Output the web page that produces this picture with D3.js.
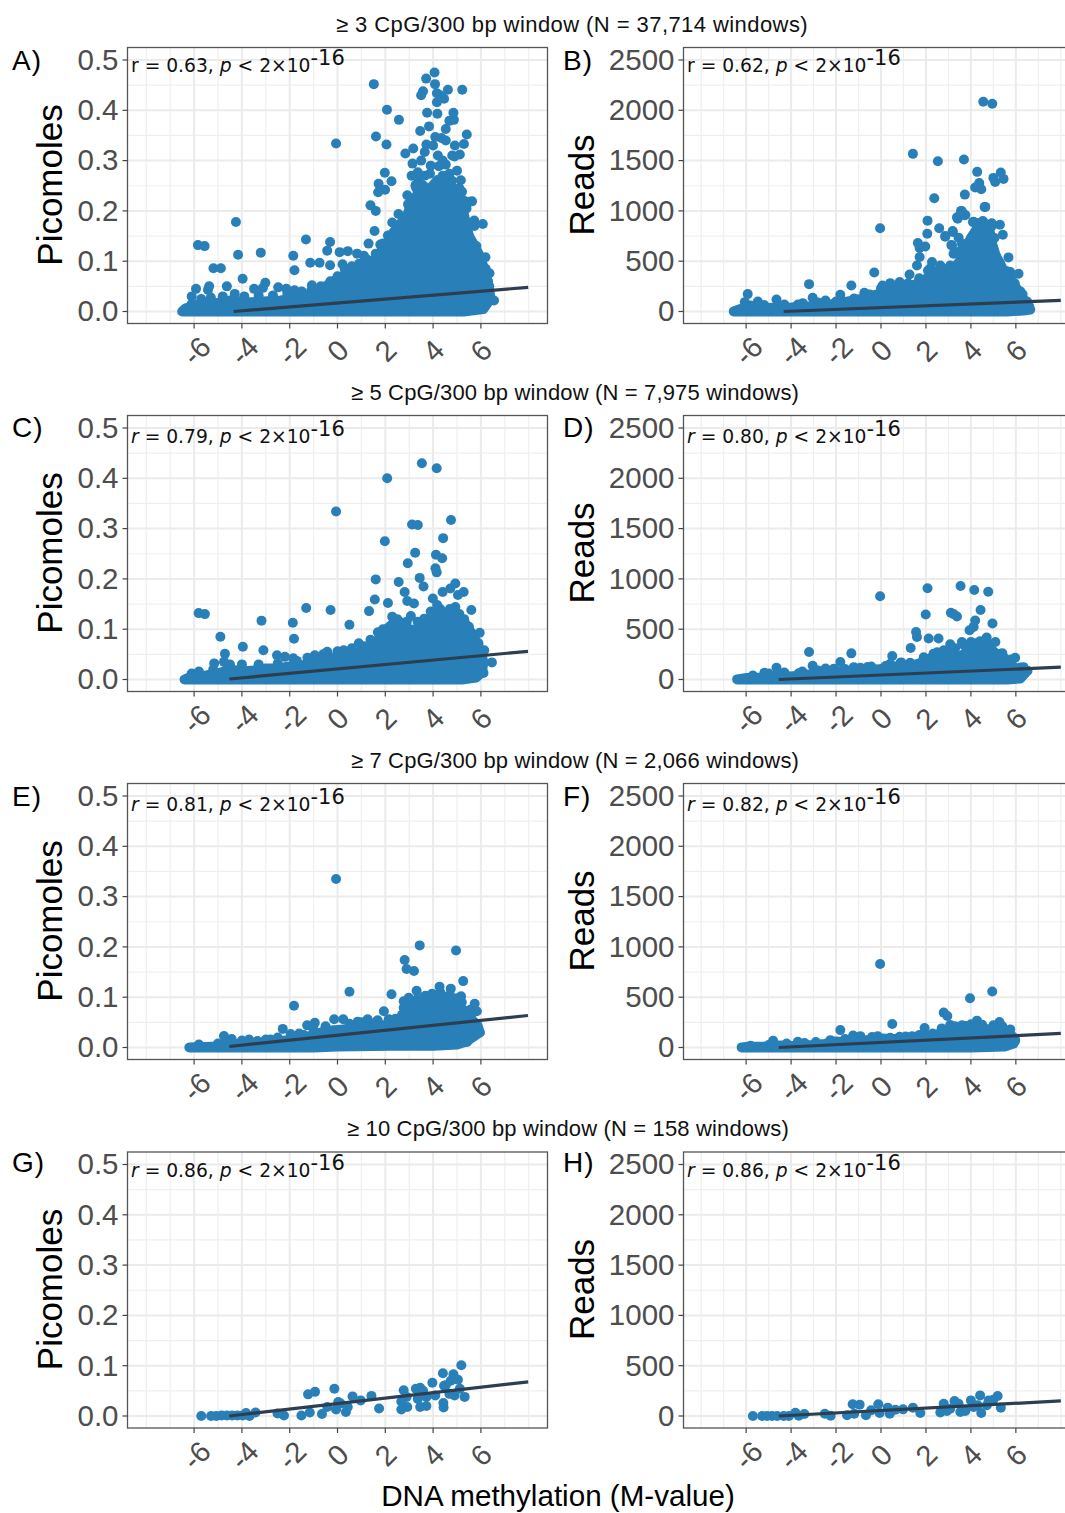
<html>
<head>
<meta charset="utf-8">
<script src="https://cdn.jsdelivr.net/npm/d3@7"></script>
<style>
  body, html { margin:0; padding:0; background:#fff; overflow:hidden; }
  text { font-family:"Liberation Sans", Arial, sans-serif; }
  .note { font-family:"DejaVu Sans"; }
</style>
</head>
<body>
<svg id="chart" width="1065" height="1513"></svg>
<script>
var xTicks = [-6,-4,-2,0,2,4,6];
var xMinor = [-8,-7,-5,-3,-1,1,3,5,7,8];
var picoTicks = [0,0.1,0.2,0.3,0.4,0.5];
var picoMinor = [0.05,0.15,0.25,0.35,0.45];
var readTicks = [0,500,1000,1500,2000,2500];
var readMinor = [250,750,1250,1750,2250];

var rowTitles = [
  "≥ 3 CpG/300 bp window (N = 37,714 windows)",
  "≥ 5 CpG/300 bp window (N = 7,975 windows)",
  "≥ 7 CpG/300 bp window (N = 2,066 windows)",
  "≥ 10 CpG/300 bp window (N = 158 windows)"
];
var panelNames = ["A)","B)","C)","D)","E)","F)","G)","H)"];
var rValues = ["0.63","0.62","0.79","0.80","0.81","0.82","0.86","0.86"];

// windows: [M-value, picomoles or reads]
var pointsA = [[4.06,.475],[3.71,.463],[4.08,.452],[1.52,.452],[5.22,.441],[4.62,.441],[3.58,.438],[3.5,.43],[4.16,.434],[4.46,.423],[4.3,.43],[4.16,.416],[2.07,.401],[4.85,.395],[3.75,.395],[4.18,.393],[2.57,.381],[4.87,.381],[4.68,.379],[3.83,.368],[4.53,.363],[3.46,.359],[1.61,.348],[5.41,.352],[4.09,.347],[5.29,.333],[4.53,.34],[-.06,.334],[2.05,.332],[3.72,.332],[3.17,.324],[2.84,.314],[4.91,.33],[3.65,.317],[5.12,.312],[4.9,.308],[3.14,.294],[4.24,.289],[4.53,.292],[1.98,.276],[3.36,.277],[3.87,.274],[4.68,.274],[4.72,.262],[2.26,.259],[5.16,.261],[1.72,.254],[3.28,.252],[1.99,.242],[1.7,.237],[5.21,.238],[2.92,.231],[5.63,.219],[5.5,.218],[1.38,.211],[2.95,.213],[1.6,.2],[2.55,.194],[2.29,.177],[5.72,.181],[6.08,.174],[5.73,.17],[-4.25,.178],[1.55,.16],[2.11,.151],[2.48,.154],[-1.32,.143],[-.31,.138],[1.3,.135],[1.79,.133],[-5.84,.132],[-5.56,.13],[-.43,.121],[.09,.118],[.43,.12],[.82,.115],[-3.21,.117],[-4.16,.113],[-1.85,.111],[5.56,.135],[5.81,.13],[6.19,.108],[-1.14,.097],[-.75,.097],[-.31,.092],[.21,.094],[-5.19,.086],[-4.88,.086],[-1.8,.082],[-3.97,.065],[-3.02,.057],[-3.49,.045],[-3.12,.047],[-5.92,.045],[-5.37,.05],[-4.63,.05],[-6.1,.03],[6.36,.076],[6.55,.022],[-2.48,.048],[-2.14,.045],[-1.8,.042],[-1.07,.052],[-5.42,.043],[1.1,.111],[3.33,.232],[3.26,.25],[3.65,.27],[4.1,.254],[4.79,.26],[5.6,.14],[3.05,.19],[3.5,.205],[2.7,.17],[2.3,.14],[3.2,.18],[5.3,.19],[5.15,.2],[4.95,.225],[5.5,.15],[6.0,.1],[6.3,.06],
  [3,.2],[3.3,.245],[3.6,.25],[3.9,.245],[4.4,.27],[4.7,.255],[5.1,.245],[5.3,.22],[5.4,.205],[2.75,.18],[2.45,.165],[2.2,.15],[1.9,.135],[1.6,.115],[1.2,.105],[.9,.095],[.6,.09],[.3,.085],[0,.07],[-.3,.06],[-.7,.05],[-1.1,.042],[-1.5,.04],[-2.1,.035],[-2.7,.032],[-3.3,.032],[-3.9,.03],[-4.3,.035],[-4.8,.03],[-5.3,.028],[-5.7,.025],[-6.1,.015],[5.9,.115],[6.2,.085],[6.35,.05],[5,.28],[4.4,.3],[4.8,.31],[3.4,.26],[3.9,.29],[3.1,.27],[3.5,.3],[4.2,.31],[4,.33],[4.35,.345]];
var coreAx = [-6.5,-6.36,-5.87,-5.03,-4.47,-3.78,-2.38,-1.69,-1.13,-.43,.26,.82,1.38,1.94,2.3,2.9,3.2,3.7,4.2,4.6,5,5.3,5.5,5.8,6.1,6.33,6.4,6.1,5.28];
var coreAy = [0,.006,.014,.017,.022,.018,.022,.027,.033,.052,.072,.08,.095,.125,.155,.19,.225,.235,.262,.262,.235,.19,.15,.125,.09,.05,.025,.005,0];
var trendA = [[-4.35,0],[7.98,.048]];

var pointsB = [[4.55,2085],[4.95,2065],[1.42,1567],[2.53,1494],[3.69,1511],[4.28,1388],[5.33,1381],[5,1328],[5.45,1318],[5.08,1288],[4.37,1278],[4.19,1232],[4.46,1215],[3.73,1162],[2.37,1125],[4.61,1039],[3.6,996],[3.41,923],[3.72,956],[2.07,903],[4.09,890],[4.53,900],[5.29,863],[-.04,827],[2.59,827],[2.06,773],[3.19,790],[5.42,763],[2.86,744],[4.86,773],[1.64,681],[1.97,647],[1.72,631],[3.16,657],[3.82,674],[3.45,734],[4.27,707],[3.23,574],[1.72,541],[2.27,491],[1.6,458],[5.67,538],[2.64,458],[3.08,458],[-.3,388],[2.09,408],[1.27,368],[6.12,375],[5.75,392],[-3.2,272],[-1.32,259],[-5.93,173],[-6.06,93],[-5.48,100],[-4.65,120],[-3.04,136],[-1.81,166],[-2.47,110],[-.74,186],[.07,259],[.41,282],[.83,292],[6.59,53],[-3.48,83],[3.56,1000],[3.38,937],[3.75,960],[4.12,893],[4.93,877],[4.64,1040],[2.86,750],[3.19,800],[3.13,660],[3.6,677],[3.97,710],[4.4,850],[4.7,820],[4.25,800],[4,640],[4.8,680],[5,560],[5.3,480],[5.5,370],[5.9,280],[6.2,200],
  [2.2,430],[2.6,410],[3,430],[0,230],[.6,255],[1.2,280],[1.7,330],[-.5,170],[-1.2,130],[-2,100],[-2.8,90],[-3.7,70],[-4.3,70],[-5.2,65],[-5.8,60],[5.6,400],[5.95,280],[6.3,170],[6.5,100],[3.5,600],[3.9,620],[4.3,880],[4.6,880],[4.9,840],[5.05,730]];
var coreBx = [-6.55,-6.25,-5.5,-4,-2.55,-1.8,-.77,.12,1.16,1.9,2.34,2.93,3.3,3.7,4,4.3,4.7,4.93,5.1,5.4,5.75,6.2,6.49,6.64,6.34,5.6];
var coreBy = [0,25,35,40,60,85,130,190,240,300,400,380,440,560,730,830,830,680,560,430,330,167,70,20,10,0];
var trendB = [[-4.33,0],[8,110]];

var pointsC = [[3.53,.43],[4.15,.42],[2.08,.4],[-.06,.334],[4.75,.317],[3.12,.308],[3.36,.307],[4.42,.281],[1.98,.275],[3.25,.252],[4.12,.248],[4.38,.241],[2.94,.231],[4.1,.221],[4.15,.213],[3.44,.202],[1.6,.199],[2.56,.194],[3.6,.185],[4.93,.191],[4.72,.181],[4.4,.174],[5.28,.174],[5.04,.168],[2.81,.174],[3.99,.161],[1.56,.159],[2.92,.156],[3.2,.151],[2.11,.152],[4.17,.148],[4.93,.144],[1.32,.136],[5.6,.138],[-5.81,.132],[-5.55,.13],[-1.31,.142],[-.29,.138],[-3.18,.117],[-1.87,.113],[.5,.109],[2.29,.125],[3.07,.126],[3.63,.121],[3.35,.115],[1.69,.094],[5.95,.093],[-1.82,.081],[-4.9,.085],[1.38,.079],[.89,.072],[-3.96,.065],[-4.71,.051],[-3.1,.058],[-2.53,.048],[-2.2,.045],[-1.85,.042],[-5.16,.032],[-4.75,.035],[-1.26,.043],[-.95,.048],[-.43,.055],[.26,.058],[6.46,.034],[6.11,.013],[6.14,.058],[5.9,.072],[2.6,.115],[4.5,.13],[5.3,.12],[5.65,.09],
  [2.5,.12],[2.9,.115],[3.9,.135],[4.3,.14],[4.7,.14],[5.1,.13],[5.5,.105],[1.9,.1],[1.7,.075],[1.1,.066],[.6,.062],[0,.056],[-.6,.05],[-1.1,.04],[-1.7,.037],[-2.5,.032],[-3.3,.03],[-4,.03],[-4.5,.03],[-5.2,.02],[-5.8,.016],[-6.1,.012]];
var coreCx = [-6.4,-6.1,-5.5,-5,-4.5,-4,-3.5,-3,-2.5,-2,-1.5,-1,-.5,0,.5,1,1.5,2,2.3,2.7,3,3.4,3.7,4.1,4.6,5,5.3,5.7,6,6.1,6.05,5.8,5.2];
var coreCy = [0,.006,.008,.012,.02,.016,.018,.022,.022,.026,.028,.032,.042,.045,.05,.055,.066,.098,.11,.11,.1,.097,.11,.13,.13,.125,.115,.085,.055,.035,.015,.004,0];
var trendC = [[-4.53,.001],[7.97,.056]];

var pointsD = [[3.54,930],[2.07,907],[4.15,890],[4.77,873],[-.04,827],[4.43,690],[1.99,647],[3.11,663],[3.23,650],[3.38,627],[4.19,587],[4.96,557],[4.12,523],[3.94,490],[1.56,473],[1.6,423],[2.12,407],[2.56,407],[4.7,417],[5.09,373],[3.6,373],[4,373],[3.08,350],[1.32,313],[-3.2,273],[-1.32,260],[.5,233],[5.97,217],[-1.81,173],[-3.04,137],[-4.65,117],[-5.19,67],[-2.47,110],[-2.1,107],[-1.21,123],[-.92,117],[-.43,130],[.41,157],[.86,163],[1.3,167],[6.52,87],[6.13,30],[6.34,123],[-3.66,63],[2.34,257],[2.79,290],[5.3,257],[5.53,207],[4.4,380],[4.85,350],
  [3.3,310],[3.7,340],[4.2,360],[4.5,350],[2.5,270],[1.9,220],[.9,170],[.2,135],[-.6,125],[-1.6,105],[-2.8,90],[-3.5,80],[-4.3,70],[-5,60],[-5.7,40],[5.4,260],[5.8,200],[6.2,120]];
var coreDx = [-6.4,-5.96,-5.3,-4.6,-4,-3,-2,-1,0,.5,1,1.5,2,2.4,3,3.5,4,4.5,5,5.5,6,6.4,6.2,5.6];
var coreDy = [0,15,20,40,30,55,75,80,105,125,135,145,185,240,260,225,300,330,280,190,110,60,10,0];
var trendD = [[-4.55,0],[8,123]];

var pointsE = [[-.06,.335],[3.44,.203],[4.96,.193],[2.81,.174],[2.89,.156],[3.2,.152],[5.26,.132],[.5,.111],[2.26,.106],[3.31,.113],[4.27,.121],[4.74,.117],[3.96,.107],[3.68,.103],[5.17,.102],[2.98,.099],[2.77,.092],[5.74,.087],[-1.82,.083],[2.77,.079],[5.83,.072],[1.94,.072],[5.55,.075],[-.14,.056],[.24,.056],[-.95,.049],[-1.27,.044],[.84,.051],[1.26,.056],[1.68,.054],[2.42,.057],[2.14,.056],[-2.29,.037],[5.95,.03],[5.42,.011],[-4.75,.023],[-4.43,.017],[-3.7,.016],[-3.35,.013],[-2.8,.016],[-1.96,.027],[-1.41,.025],[3.3,.095],[4.5,.1],[5,.098],
  [3.6,.1],[4,.105],[4.3,.11],[4.7,.105],[5.2,.09],[5.6,.065],[3,.085],[2.7,.065],[2.2,.055],[1.6,.05],[1,.05],[.5,.047],[-.5,.042],[-1,.035],[-1.6,.028],[-2.5,.02],[-3,.016],[-4,.014],[-5,.008],[-5.8,.006]];
var coreEx = [-6.2,-5,-4.6,-4,-3,-2.5,-2,-1.5,-1,-.5,0,.5,1,1.5,2,2.6,3,3.5,4,4.5,5,5.5,5.85,5.95,5.4,5,4,3,0,-1];
var coreEy = [0,.002,.008,.006,.008,.012,.015,.018,.025,.033,.035,.037,.04,.042,.045,.05,.075,.085,.09,.095,.09,.06,.045,.03,.012,.006,.0035,.004,.002,0];
var trendE = [[-4.53,.002],[7.97,.0636]];

var pointsF = [[-.04,830],[4.95,557],[3.96,490],[2.79,347],[2.95,313],[.5,233],[-1.81,173],[1.94,193],[5.27,253],[4.27,267],[3.75,213],[3.08,223],[-4.8,67],[-3.7,57],[-1.24,120],[-.92,113],[-.15,113],[.41,97],[.83,107],[1.38,113],[5.75,180],[5.97,67],[5.45,30],[-2.25,73],
  [2.3,140],[2.7,190],[3.3,210],[3.6,220],[4,230],[4.5,225],[5,220],[5.4,210],[1.7,125],[1.1,110],[-.4,105],[-1.6,85],[-2.9,55],[-3.4,45],[-4.2,40],[-5,25],[-5.8,18]];
var coreFx = [-6.2,-5.9,-5,-4.5,-4,-3,-2.5,-2,-1.5,-1,-.5,0,.5,1,1.5,2,2.5,3,3.5,4,4.5,5,5.6,5.95,5.9,5.5,4];
var coreFy = [0,8,8,20,15,25,35,60,50,70,75,90,85,85,90,110,130,170,170,190,185,180,160,90,40,10,0];
var trendF = [[-4.55,0],[8,140]];

var pointsG = [[-5.7,0],[-5.29,0],[-5.07,0],[-4.85,.001],[-4.63,.001],[-4.41,.001],[-4.19,.001],[-3.97,.001],[-3.83,.006],[-3.68,0],[-3.43,.007],[-2.51,.005],[-2.24,.001],[-1.51,.001],[-1.23,.043],[-.94,.048],[-1.16,.007],[-.65,.004],[-.43,.018],[-.13,.054],[-.06,.013],[.03,.028],[.35,.008],[.43,.018],[.13,.025],[.63,.039],[.97,.031],[1.42,.04],[1.74,.015],[2.67,.013],[2.77,.051],[2.67,.029],[2.92,.018],[2.89,.038],[3.28,.054],[3.46,.056],[3.58,.05],[3.46,.018],[3.72,.02],[3.36,.034],[3.97,.066],[4.09,.041],[3.72,.038],[4.41,.085],[4.46,.06],[4.43,.026],[4.44,.017],[4.85,.083],[5.04,.072],[4.74,.07],[4.53,.061],[5.18,.101],[5.32,.038],[4.9,.041],[5.12,.054],[4.68,.044]];
var trendG = [[-4.53,0],[7.98,.068]];

var pointsH = [[-5.7,0],[-5.29,0],[-5.07,0],[-4.85,0],[-4.62,0],[-4.33,0],[-4.1,0],[-3.81,33],[-3.66,3],[-3.41,20],[-2.5,23],[-2.24,3],[-1.51,7],[-1.26,116],[-.95,113],[-1.19,23],[-.67,7],[-.44,56],[-.12,116],[-.06,30],[.3,83],[.39,23],[.64,63],[.98,66],[1.42,83],[1.75,30],[2.64,36],[2.79,122],[2.93,50],[3.27,149],[3.45,122],[3.53,40],[3.08,73],[3.75,50],[4,155],[4.41,205],[4.46,30],[4.12,89],[4.79,155],[5.19,199],[5,162],[5.33,83],[4.71,106],[4.3,106]];
var trendH = [[-4.55,0],[8,150]];

var pointSets = [pointsA,pointsB,pointsC,pointsD,pointsE,pointsF,pointsG,pointsH];
var coreXs = [coreAx,coreBx,coreCx,coreDx,coreEx,coreFx,null,null];
var coreYs = [coreAy,coreBy,coreCy,coreDy,coreEy,coreFy,null,null];
var trends = [trendA,trendB,trendC,trendD,trendE,trendF,trendG,trendH];

var blue = "#2980b9", dark = "#2c3e50";
var rowTops = [47.5,415.5,783.5,1152];
var titleCenters = [572,575,575,568];
var titleSpacing = [0.43,0.15,0.15,0.15];
var letterBase = [70,437,806,1172];
var noteBase = [72,442.5,810.5,1176.5];
var svg = d3.select("#chart");

rowTitles.forEach(function(t,i){
  svg.append("text").attr("x",titleCenters[i]).attr("y",rowTops[i]-16)
     .attr("text-anchor","middle").attr("font-size",22).attr("letter-spacing",titleSpacing[i]).attr("fill","#111").text(t);
});

panelNames.forEach(function(name,i){
  var col = i%2, row = Math.floor(i/2), top = rowTops[row];
  var left = col ? 683.5 : 127.5, width = col ? 395 : 420;
  var x = d3.scaleLinear().domain([-8.787,8.787]).range([left,left+width]);
  var y = d3.scaleLinear().domain(col ? [0,2500] : [0,0.5]).range([top+264,top+12.5]);
  var yTicks = col ? readTicks : picoTicks, yMinor = col ? readMinor : picoMinor;
  var g = svg.append("g");

  // grid
  xMinor.forEach(function(d){ g.append("line").attr("x1",x(d)).attr("x2",x(d)).attr("y1",top).attr("y2",top+276).attr("stroke","#efefef").attr("stroke-width",1.2); });
  yMinor.forEach(function(d){ g.append("line").attr("x1",left).attr("x2",left+width).attr("y1",y(d)).attr("y2",y(d)).attr("stroke","#efefef").attr("stroke-width",1.2); });
  xTicks.forEach(function(d){ g.append("line").attr("x1",x(d)).attr("x2",x(d)).attr("y1",top).attr("y2",top+276).attr("stroke","#ebebeb").attr("stroke-width",2); });
  yTicks.forEach(function(d){ g.append("line").attr("x1",left).attr("x2",left+width).attr("y1",y(d)).attr("y2",y(d)).attr("stroke","#ebebeb").attr("stroke-width",2); });

  // overplotted core of the cloud, then the separate dots
  if(coreXs[i]){
    var coreData = d3.zip(coreXs[i],coreYs[i]);
    var outline = d3.line().x(function(d){return x(d[0])}).y(function(d){return y(d[1])});
    g.append("path").attr("d",outline(coreData)+"Z")
     .attr("fill",blue).attr("stroke",blue).attr("stroke-width",10).attr("stroke-linejoin","round");
  }
  g.selectAll("circle").data(pointSets[i]).enter().append("circle")
   .attr("cx",function(d){return x(d[0])}).attr("cy",function(d){return y(d[1])})
   .attr("r",5).attr("fill",blue);

  g.append("path").datum(trends[i])
   .attr("d",d3.line().x(function(d){return x(d[0])}).y(function(d){return y(d[1])}))
   .attr("fill","none").attr("stroke",dark).attr("stroke-width",3.2);

  // border and ticks
  g.append("rect").attr("x",left).attr("y",top).attr("width",width).attr("height",276)
   .attr("fill","none").attr("stroke","#555").attr("stroke-width",1.3);
  yTicks.forEach(function(d){
    g.append("line").attr("x1",left-5).attr("x2",left).attr("y1",y(d)).attr("y2",y(d)).attr("stroke","#444").attr("stroke-width",1.2);
    g.append("text").attr("x",left-9).attr("y",y(d)+9.8).attr("text-anchor","end")
     .attr("font-size",29.5).attr("fill","#4d4d4d").text(col ? d : d.toFixed(1));
  });
  xTicks.forEach(function(d){
    g.append("line").attr("x1",x(d)).attr("x2",x(d)).attr("y1",top+276).attr("y2",top+281).attr("stroke","#444").attr("stroke-width",1.2);
    g.append("text").attr("transform","translate("+(x(d)+(d<0?2:0))+","+(top+303)+") rotate(-45)")
     .attr("text-anchor","middle").attr("dy","0.36em").attr("font-size",29).attr("fill","#4d4d4d").text(d);
  });

  // axis title and panel letter
  var ty = top+137.5, tx = col ? 594 : 62;
  g.append("text").attr("transform","translate("+tx+","+ty+") rotate(-90)").attr("text-anchor","middle")
   .attr("font-size",35).attr("fill","#000").text(col ? "Reads" : "Picomoles");
  g.append("text").attr("x",col ? 563 : 12).attr("y",letterBase[row]).attr("font-size",28).attr("letter-spacing",1).attr("fill","#000").text(name);

  // correlation note
  var note = g.append("text").attr("class","note").attr("x",left+3.5).attr("y",noteBase[row]).attr("font-size",18.7).attr("fill","#111");
  note.append("tspan").attr("font-style",i<2 ? "normal" : "italic").text("r");
  note.append("tspan").text(" = "+rValues[i]+", ");
  note.append("tspan").attr("font-style","italic").text("p");
  note.append("tspan").text(" < 2×10");
  note.append("tspan").attr("dy",-7).attr("font-size",21).text("-16");
});

svg.append("text").attr("x",558).attr("y",1506).attr("text-anchor","middle")
   .attr("font-size",29.6).attr("fill","#000").text("DNA methylation (M-value)");
</script>
</body>
</html>
